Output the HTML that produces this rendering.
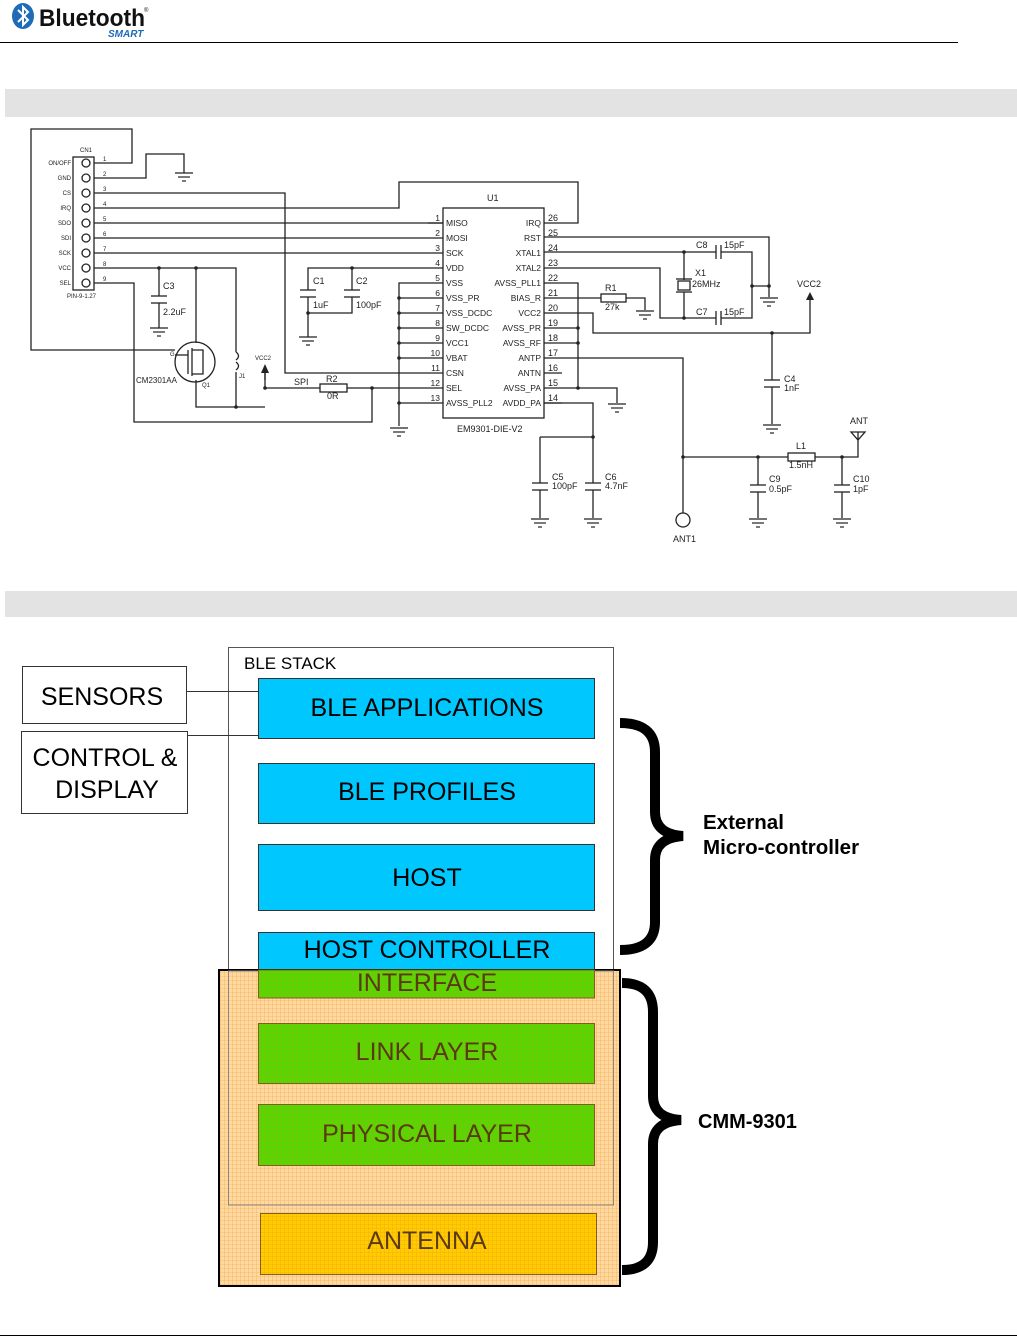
<!DOCTYPE html>
<html><head><meta charset="utf-8"><style>
body{margin:0;background:#fff;width:1017px;height:1337px;overflow:hidden}
svg{display:block}
text{font-family:"Liberation Sans",sans-serif}
</style></head><body>
<svg width="1017" height="1337" viewBox="0 0 1017 1337" xmlns="http://www.w3.org/2000/svg">
<defs>
<g id="gnd" stroke="#222" stroke-width="1.2"><line x1="-9" y1="0" x2="9" y2="0"/><line x1="-6" y1="4" x2="6" y2="4"/><line x1="-2" y1="8" x2="2" y2="8"/></g>
<pattern id="grid" width="4" height="4" patternUnits="userSpaceOnUse"><rect width="4" height="4" fill="#ffd9a0"/><path d="M0 0H4M0 0V4" stroke="#f0a040" stroke-width="0.6"/></pattern>
<pattern id="ggrid" width="4" height="4" patternUnits="userSpaceOnUse"><rect width="4" height="4" fill="#55d800"/><path d="M0 0H4M0 0V4" stroke="#b8a020" stroke-width="0.5"/></pattern>
<pattern id="ygrid" width="4" height="4" patternUnits="userSpaceOnUse"><rect width="4" height="4" fill="#ffcc00"/><path d="M0 0H4M0 0V4" stroke="#f09020" stroke-width="0.5"/></pattern>
</defs>

<!-- header -->
<ellipse cx="23" cy="16" rx="11" ry="13" fill="#1e6bb8"/>
<path d="M18 10 L28 20 L23 25 L23 7 L28 12 L18 22" stroke="#fff" stroke-width="2" fill="none"/>
<text x="39" y="26" font-size="24" font-weight="bold" fill="#111" textLength="106" lengthAdjust="spacingAndGlyphs">Bluetooth</text>
<text x="144" y="12" font-size="6" fill="#111">®</text>
<text x="108" y="37" font-size="10" font-weight="bold" font-style="italic" fill="#1e6bb8">SMART</text>
<line x1="0" y1="42.5" x2="958" y2="42.5" stroke="#000" stroke-width="1"/>
<line x1="0" y1="1335.5" x2="1017" y2="1335.5" stroke="#000" stroke-width="1"/>

<rect x="5" y="89" width="1012" height="28" fill="#e3e3e3"/>
<rect x="5" y="591" width="1012" height="26" fill="#e3e3e3"/>

<!-- schematic -->
<g stroke="#222" stroke-width="1.3" fill="none">
<rect x="73" y="157" width="21" height="133"/>
<circle cx="86" cy="163" r="4"/><circle cx="86" cy="178" r="4"/><circle cx="86" cy="193" r="4"/><circle cx="86" cy="208" r="4"/><circle cx="86" cy="223" r="4"/><circle cx="86" cy="238" r="4"/><circle cx="86" cy="253" r="4"/><circle cx="86" cy="268" r="4"/><circle cx="86" cy="283" r="4"/>
<polyline points="94,163 132,163 132,129 31,129 31,350 175,350"/>
<polyline points="94,178 146,178 146,154 184,154 184,173"/>
<polyline points="94,193 285,193 285,373 443,373"/>
<polyline points="94,208 399,208 399,182 578,182 578,223 544,223"/>
<line x1="94" y1="223" x2="443" y2="223"/>
<line x1="94" y1="238" x2="443" y2="238"/>
<line x1="94" y1="253" x2="443" y2="253"/>
<polyline points="94,268 236,268 236,352"/>
<polyline points="236,372 236,407 196,407 196,380"/>
<line x1="236" y1="407" x2="265" y2="407"/>
<polyline points="265,373 265,388 320,388"/>
<rect x="320" y="384" width="27" height="8"/>
<line x1="347" y1="388" x2="443" y2="388"/>
<polyline points="94,283 134,283 134,422 372,422 372,388"/>
<line x1="159" y1="268" x2="159" y2="296"/><line x1="151" y1="296" x2="167" y2="296"/><line x1="151" y1="303" x2="167" y2="303"/><line x1="159" y1="303" x2="159" y2="328"/>
<line x1="196" y1="268" x2="196" y2="343"/>
<circle cx="195" cy="362" r="20"/>
<line x1="188" y1="350" x2="188" y2="374"/><line x1="175" y1="355" x2="188" y2="355"/>
<line x1="192" y1="348" x2="192" y2="376"/>
<polyline points="192,350 203,350 203,374 192,374"/>
<path d="M236 352 q5 4 0 8 M236 362 q5 4 0 8"/>
<line x1="265" y1="373" x2="265" y2="380"/>
<polyline points="443,268 308,268 308,290"/>
<line x1="300" y1="290" x2="316" y2="290"/><line x1="300" y1="297" x2="316" y2="297"/>
<line x1="308" y1="297" x2="308" y2="337"/>
<line x1="352" y1="268" x2="352" y2="290"/>
<line x1="344" y1="290" x2="360" y2="290"/><line x1="344" y1="297" x2="360" y2="297"/>
<polyline points="352,297 352,313 308,313"/>
<polyline points="443,283 399,283 399,426"/>
<line x1="399" y1="298" x2="443" y2="298"/><line x1="399" y1="313" x2="443" y2="313"/><line x1="399" y1="328" x2="443" y2="328"/><line x1="399" y1="343" x2="443" y2="343"/><line x1="399" y1="358" x2="443" y2="358"/><line x1="399" y1="403" x2="443" y2="403"/>
<rect x="443" y="208" width="101" height="210"/>
<polyline points="544,237 769,237 769,297"/>
<polyline points="544,252 716,252"/><line x1="716" y1="245" x2="716" y2="259"/><line x1="721" y1="245" x2="721" y2="259"/>
<polyline points="721,252 752,252 752,318 721,318"/><line x1="752" y1="286" x2="769" y2="286"/>
<line x1="684" y1="252" x2="684" y2="280"/><rect x="678" y="281" width="12" height="9"/><line x1="676" y1="279" x2="692" y2="279"/><line x1="676" y1="292" x2="692" y2="292"/><line x1="684" y1="292" x2="684" y2="318"/>
<polyline points="544,268 660,268 660,318 716,318"/><line x1="716" y1="311" x2="716" y2="325"/><line x1="721" y1="311" x2="721" y2="325"/>
<polyline points="544,283 578,283 578,388 544,388"/>
<line x1="544" y1="328" x2="578" y2="328"/><line x1="544" y1="343" x2="578" y2="343"/>
<polyline points="578,388 617,388 617,403"/>
<line x1="544" y1="298" x2="601" y2="298"/><rect x="601" y="294" width="25" height="8"/><polyline points="626,298 645,298 645,310"/>
<polyline points="544,313 593,313 593,333 810,333 810,300"/>
<line x1="772" y1="333" x2="772" y2="380"/><line x1="764" y1="380" x2="780" y2="380"/><line x1="764" y1="387" x2="780" y2="387"/><line x1="772" y1="387" x2="772" y2="424"/>
<polyline points="544,358 683,358 683,513"/>
<circle cx="683" cy="520" r="7"/>
<line x1="544" y1="373" x2="562" y2="373"/>
<polyline points="544,403 593,403 593,483"/>
<line x1="593" y1="437" x2="540" y2="437"/><line x1="540" y1="437" x2="540" y2="483"/>
<line x1="532" y1="483" x2="548" y2="483"/><line x1="532" y1="490" x2="548" y2="490"/><line x1="540" y1="490" x2="540" y2="518"/>
<line x1="585" y1="483" x2="601" y2="483"/><line x1="585" y1="490" x2="601" y2="490"/><line x1="593" y1="490" x2="593" y2="518"/>
<line x1="683" y1="457" x2="788" y2="457"/><rect x="788" y="453" width="27" height="8"/><polyline points="815,457 858,457 858,440"/>
<polygon points="851,432 865,432 858,440"/><line x1="858" y1="432" x2="858" y2="440"/>
<line x1="758" y1="457" x2="758" y2="485"/><line x1="750" y1="485" x2="766" y2="485"/><line x1="750" y1="492" x2="766" y2="492"/><line x1="758" y1="492" x2="758" y2="518"/>
<line x1="842" y1="457" x2="842" y2="485"/><line x1="834" y1="485" x2="850" y2="485"/><line x1="834" y1="492" x2="850" y2="492"/><line x1="842" y1="492" x2="842" y2="518"/>
<line x1="428" y1="223" x2="443" y2="223"/>
</g>
<use href="#gnd" x="184" y="173"/><use href="#gnd" x="159" y="328"/><use href="#gnd" x="308" y="337"/><use href="#gnd" x="399" y="428"/>
<use href="#gnd" x="769" y="298"/><use href="#gnd" x="645" y="311"/><use href="#gnd" x="617" y="404"/><use href="#gnd" x="772" y="425"/>
<use href="#gnd" x="540" y="519"/><use href="#gnd" x="593" y="519"/><use href="#gnd" x="758" y="519"/><use href="#gnd" x="842" y="519"/>
<g fill="#222">
<circle cx="159" cy="268" r="1.8"/><circle cx="196" cy="268" r="1.8"/><circle cx="236" cy="407" r="1.8"/><circle cx="265" cy="388" r="1.8"/><circle cx="372" cy="388" r="1.8"/>
<circle cx="352" cy="268" r="1.8"/><circle cx="308" cy="313" r="1.8"/>
<circle cx="399" cy="298" r="1.8"/><circle cx="399" cy="313" r="1.8"/><circle cx="399" cy="328" r="1.8"/><circle cx="399" cy="343" r="1.8"/><circle cx="399" cy="358" r="1.8"/><circle cx="399" cy="403" r="1.8"/>
<circle cx="578" cy="328" r="1.8"/><circle cx="578" cy="343" r="1.8"/><circle cx="578" cy="388" r="1.8"/>
<circle cx="684" cy="252" r="1.8"/><circle cx="684" cy="318" r="1.8"/><circle cx="752" cy="286" r="1.8"/><circle cx="769" cy="286" r="1.8"/>
<circle cx="772" cy="333" r="1.8"/><circle cx="593" cy="437" r="1.8"/><circle cx="683" cy="457" r="1.8"/><circle cx="758" cy="457" r="1.8"/><circle cx="842" cy="457" r="1.8"/>
<polygon points="265,364 261,373 269,373"/><polygon points="810,292 806,300 814,300"/>
</g>
<g font-size="6" fill="#222" text-anchor="end">
<text x="71" y="165">ON/OFF</text><text x="71" y="180">GND</text><text x="71" y="195">CS</text><text x="71" y="210">IRQ</text><text x="71" y="225">SDO</text><text x="71" y="240">SDI</text><text x="71" y="255">SCK</text><text x="71" y="270">VCC</text><text x="71" y="285">SEL</text>
</g>
<g font-size="6" fill="#222">
<text x="80" y="152">CN1</text><text x="67" y="298">PIN-9-1.27</text>
<text x="103" y="161">1</text><text x="103" y="176">2</text><text x="103" y="191">3</text><text x="103" y="206">4</text><text x="103" y="221">5</text><text x="103" y="236">6</text><text x="103" y="251">7</text><text x="103" y="266">8</text><text x="103" y="281">9</text>
<text x="255" y="360">VCC2</text><text x="239" y="378">J1</text><text x="170" y="356">G</text><text x="202" y="387">Q1</text>
</g>
<g font-size="9" fill="#222">
<text x="163" y="289">C3</text><text x="163" y="315">2.2uF</text><text x="136" y="383" font-size="8">CM2301AA</text>
<text x="294" y="385">SPI</text><text x="326" y="382">R2</text><text x="327" y="399">0R</text>
<text x="313" y="284">C1</text><text x="356" y="284">C2</text><text x="313" y="308">1uF</text><text x="356" y="308">100pF</text>
<text x="487" y="201">U1</text><text x="457" y="432">EM9301-DIE-V2</text>
<text x="696" y="248">C8</text><text x="724" y="248">15pF</text><text x="696" y="315">C7</text><text x="724" y="315">15pF</text>
<text x="695" y="276">X1</text><text x="692" y="287">26MHz</text>
<text x="605" y="291">R1</text><text x="605" y="310">27k</text>
<text x="797" y="287">VCC2</text>
<text x="784" y="382">C4</text><text x="784" y="391">1nF</text>
<text x="552" y="480">C5</text><text x="552" y="489">100pF</text><text x="605" y="480">C6</text><text x="605" y="489">4.7nF</text>
<text x="673" y="542">ANT1</text><text x="850" y="424">ANT</text>
<text x="796" y="449">L1</text><text x="789" y="468">1.5nH</text>
<text x="769" y="482">C9</text><text x="769" y="492">0.5pF</text><text x="853" y="482">C10</text><text x="853" y="492">1pF</text>
</g>
<g font-size="8.5" fill="#222">
<text x="446" y="226">MISO</text><text x="446" y="241">MOSI</text><text x="446" y="256">SCK</text><text x="446" y="271">VDD</text><text x="446" y="286">VSS</text><text x="446" y="301">VSS_PR</text><text x="446" y="316">VSS_DCDC</text><text x="446" y="331">SW_DCDC</text><text x="446" y="346">VCC1</text><text x="446" y="361">VBAT</text><text x="446" y="376">CSN</text><text x="446" y="391">SEL</text><text x="446" y="406">AVSS_PLL2</text>
</g>
<g font-size="8.5" fill="#222" text-anchor="end">
<text x="541" y="226">IRQ</text><text x="541" y="241">RST</text><text x="541" y="256">XTAL1</text><text x="541" y="271">XTAL2</text><text x="541" y="286">AVSS_PLL1</text><text x="541" y="301">BIAS_R</text><text x="541" y="316">VCC2</text><text x="541" y="331">AVSS_PR</text><text x="541" y="346">AVSS_RF</text><text x="541" y="361">ANTP</text><text x="541" y="376">ANTN</text><text x="541" y="391">AVSS_PA</text><text x="541" y="406">AVDD_PA</text>
<text x="440" y="221">1</text><text x="440" y="236">2</text><text x="440" y="251">3</text><text x="440" y="266">4</text><text x="440" y="281">5</text><text x="440" y="296">6</text><text x="440" y="311">7</text><text x="440" y="326">8</text><text x="440" y="341">9</text><text x="440" y="356">10</text><text x="440" y="371">11</text><text x="440" y="386">12</text><text x="440" y="401">13</text>
</g>
<g font-size="9" fill="#222">
<text x="548" y="221">26</text><text x="548" y="236">25</text><text x="548" y="251">24</text><text x="548" y="266">23</text><text x="548" y="281">22</text><text x="548" y="296">21</text><text x="548" y="311">20</text><text x="548" y="326">19</text><text x="548" y="341">18</text><text x="548" y="356">17</text><text x="548" y="371">16</text><text x="548" y="386">15</text><text x="548" y="401">14</text>
</g>
<g stroke="#222" stroke-width="1.3">
<line x1="544" y1="403" x2="562" y2="403"/>
</g>

<!-- stack diagram -->
<rect x="228.5" y="647.5" width="385" height="558" fill="#fff" stroke="#555" stroke-width="1"/>
<text x="244" y="669" font-size="17" fill="#000">BLE STACK</text>
<rect x="22.5" y="666.5" width="164" height="57" fill="#fff" stroke="#333"/>
<rect x="21.5" y="731.5" width="166" height="82" fill="#fff" stroke="#333"/>
<text x="102" y="705" font-size="25" text-anchor="middle">SENSORS</text>
<text x="105" y="766" font-size="25" text-anchor="middle">CONTROL &amp;</text>
<text x="107" y="798" font-size="25" text-anchor="middle">DISPLAY</text>
<line x1="186" y1="691.5" x2="258" y2="691.5" stroke="#333"/>
<line x1="187" y1="735.5" x2="258" y2="735.5" stroke="#333"/>
<g stroke="#333" fill="#00c8ff">
<rect x="258.5" y="678.5" width="336" height="60"/>
<rect x="258.5" y="763.5" width="336" height="60"/>
<rect x="258.5" y="844.5" width="336" height="66"/>
<rect x="258.5" y="932.5" width="336" height="37"/>
</g>
<g font-size="25" text-anchor="middle" fill="#000">
<text x="427" y="716">BLE APPLICATIONS</text>
<text x="427" y="800">BLE PROFILES</text>
<text x="427" y="886">HOST</text>
<text x="427" y="958">HOST CONTROLLER</text>
</g>
<rect x="219" y="970" width="401" height="316" fill="url(#grid)" stroke="#000" stroke-width="2"/>
<rect x="228.5" y="971" width="385" height="234" fill="none" stroke="#888" stroke-width="1"/>
<g stroke="#806020" stroke-width="1">
<rect x="258.5" y="970" width="336" height="28" fill="url(#ggrid)"/>
<rect x="258.5" y="1023.5" width="336" height="60" fill="url(#ggrid)"/>
<rect x="258.5" y="1104.5" width="336" height="61" fill="url(#ggrid)"/>
<rect x="260.5" y="1213.5" width="336" height="61" fill="url(#ygrid)"/>
</g>
<g font-size="25" text-anchor="middle" fill="#5a3a10">
<text x="427" y="991">INTERFACE</text>
<text x="427" y="1060">LINK LAYER</text>
<text x="427" y="1142">PHYSICAL LAYER</text>
<text x="427" y="1249">ANTENNA</text>
</g>
<g stroke="#000" stroke-width="10" fill="none">
<path d="M620 723 Q655 723 655 752 L655 812 Q655 834 683 836 Q655 838 655 860 L655 922 Q655 950 620 950"/>
<path d="M622 983 Q653 983 653 1012 L653 1096 Q653 1118 681 1120 Q653 1122 653 1144 L653 1242 Q653 1270 622 1270"/>
</g>
<text x="703" y="829" font-size="20.5" font-weight="bold">External</text>
<text x="703" y="854" font-size="20.5" font-weight="bold">Micro-controller</text>
<text x="698" y="1128" font-size="20" font-weight="bold">CMM-9301</text>
</svg>
</body></html>
